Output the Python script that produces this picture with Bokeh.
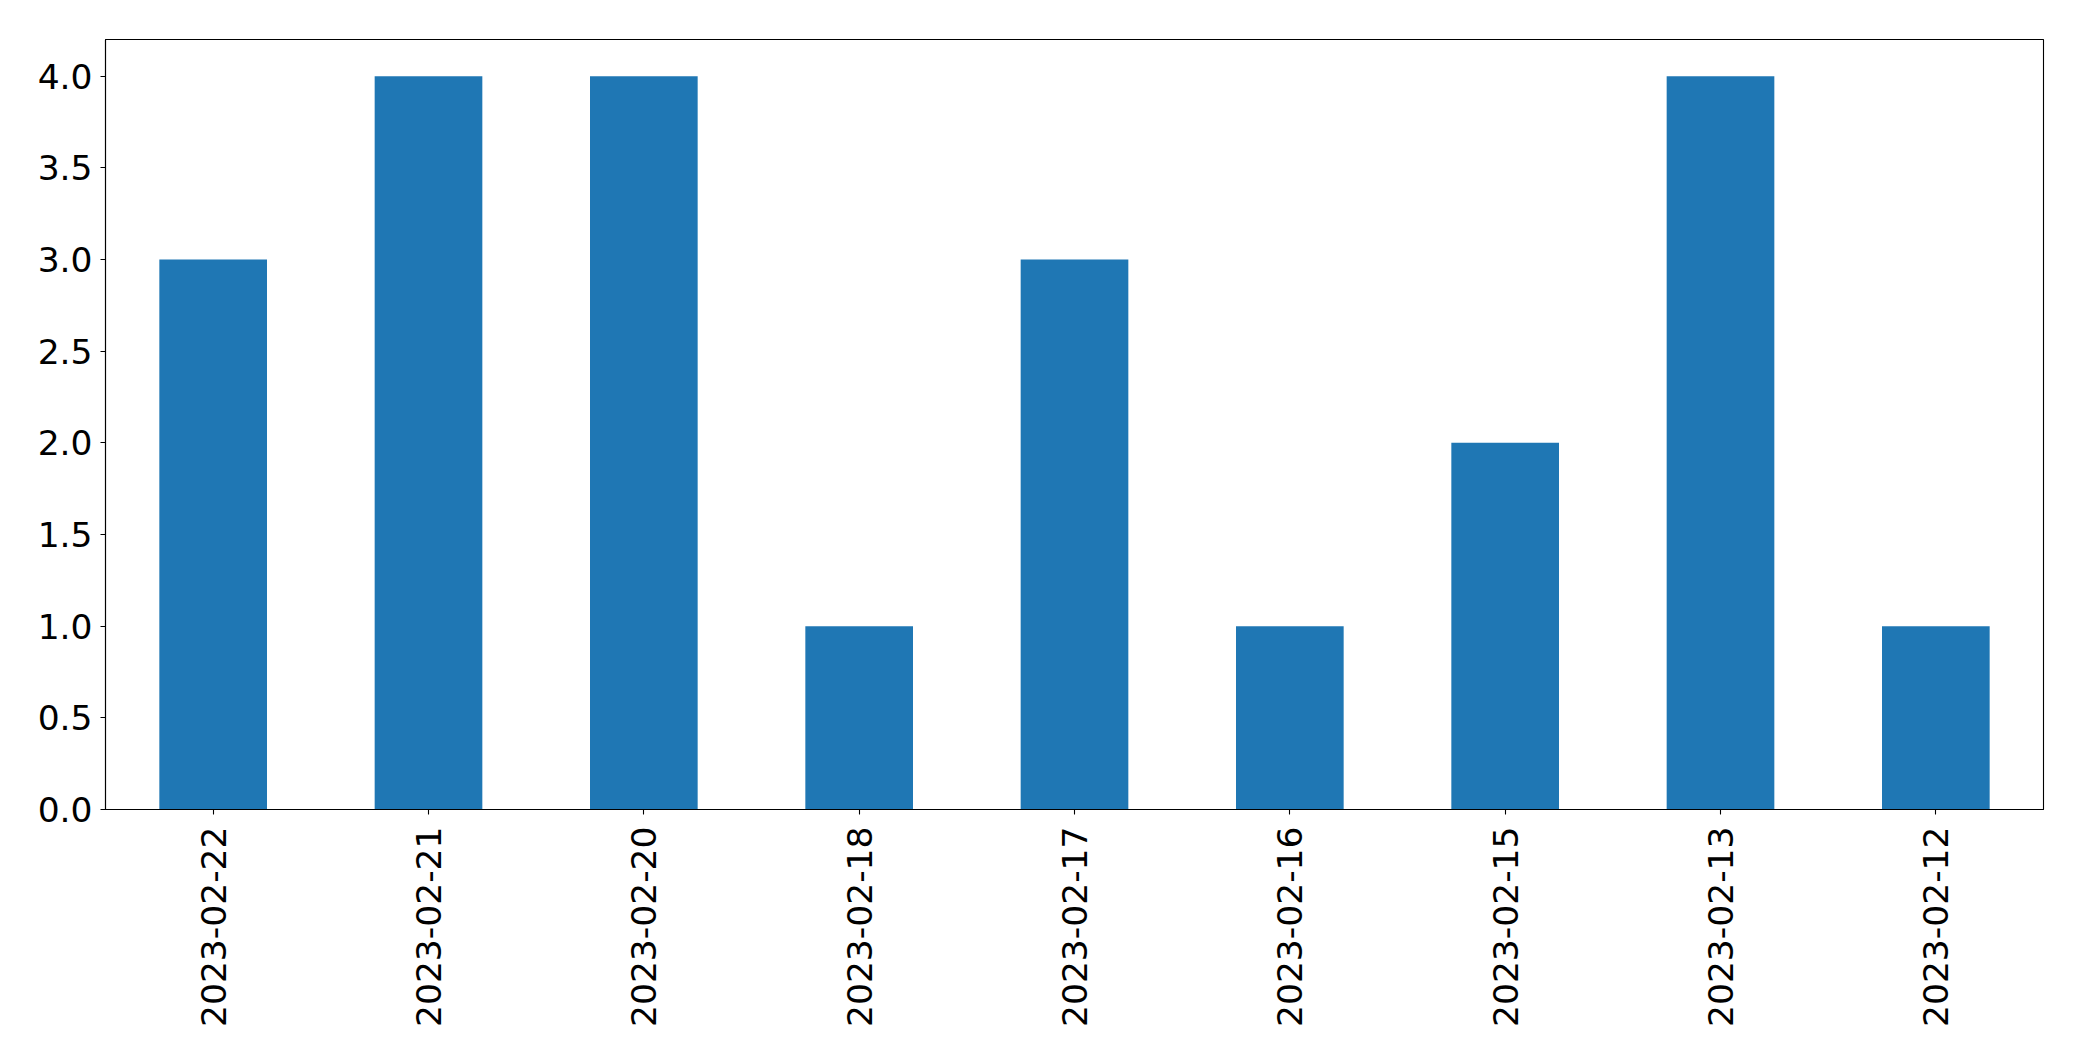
from bokeh.plotting import figure
from bokeh.models import Range1d, FixedTicker, PrintfTickFormatter, ColumnDataSource
from bokeh.embed import file_html
from bokeh.resources import INLINE
import math

dates = ["2023-02-22", "2023-02-21", "2023-02-20", "2023-02-18", "2023-02-17",
         "2023-02-16", "2023-02-15", "2023-02-13", "2023-02-12"]
counts = [3, 4, 4, 1, 3, 1, 2, 4, 1]
y_ticks = [0.0, 0.5, 1.0, 1.5, 2.0, 2.5, 3.0, 3.5, 4.0]

source = ColumnDataSource(data=dict(date=dates, count=counts))

p = figure(x_range=dates, y_range=Range1d(0, 4.2),
           width=2066, height=1045, output_backend="svg", toolbar_location=None,
           min_border_left=105, min_border_right=23, min_border_top=39, min_border_bottom=236)
p.x_range.range_padding = 0

p.vbar(x="date", top="count", width=0.5, source=source,
       fill_color="#1f77b4", line_color=None)

p.xgrid.visible = False
p.ygrid.visible = False
p.outline_line_color = "black"
p.outline_line_width = 1.1
p.outline_line_alpha = 1.0
p.background_fill_color = "white"
p.border_fill_color = "white"

for ax in (p.xaxis, p.yaxis):
    ax.axis_line_color = "black"
    ax.axis_line_width = 1.1
    ax.major_tick_line_color = "black"
    ax.major_tick_line_width = 1.1
    ax.major_tick_out = 5
    ax.major_tick_in = 0
    ax.minor_tick_line_color = None
    ax.major_label_text_font = "DejaVu Sans"
    ax.major_label_text_font_size = "34.5px"
    ax.major_label_text_color = "black"

p.yaxis.ticker = FixedTicker(ticks=y_ticks)
p.yaxis.formatter = PrintfTickFormatter(format="%.1f")
p.yaxis.major_label_standoff = 8
p.xaxis.major_label_orientation = math.pi / 2
p.xaxis.major_label_standoff = 12

open("out.html", "w").write(file_html(p, INLINE))
